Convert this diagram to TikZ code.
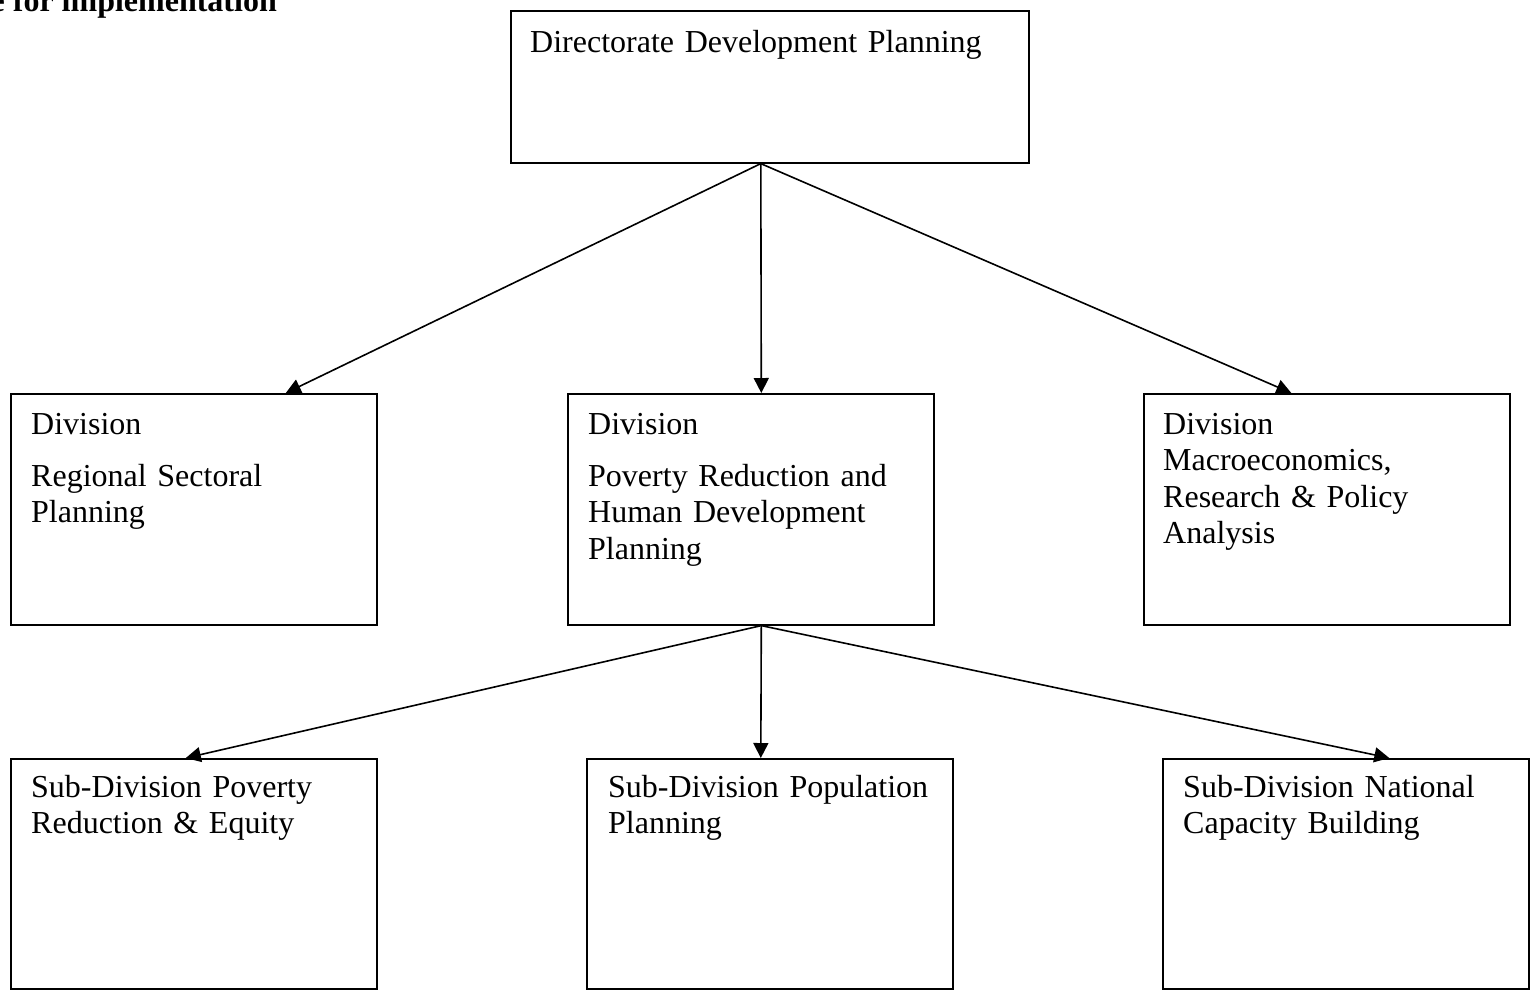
\documentclass[tikz,border=0pt]{standalone}
\usepackage{fontspec}
\setmainfont{Liberation Serif}
\usetikzlibrary{arrows.meta}
\newcommand{\topline}[1]{\rule{0pt}{#1pt}}
\tikzset{
  orgbox/.style={draw,line width=1.6pt,inner sep=0pt,anchor=north west,minimum width=366pt,minimum height=231pt},
  orgtext/.style={inner sep=0pt,anchor=north west,text width=340pt,align=left,font=\fontsize{32}{36.5}\selectfont},
  orgarrow/.style={-{Triangle[length=15pt,width=15pt]},line width=1.6pt}
}
\begin{document}
\begin{tikzpicture}[x=1pt,y=-1pt]
\useasboundingbox (0,0) rectangle (1532,997);
\clip (0,0) rectangle (1532,997);
% heading, cut off at the top
\node[inner sep=0pt,anchor=base east,font=\fontsize{32}{36}\selectfont\bfseries](head) at (277,11.5){e for implementation};
% boxes
\node[orgbox,minimum width=518pt,minimum height=152pt](dir) at (510,10){};
\node[orgbox](regional) at (10,393){};
\node[orgbox](poverty) at (567,393){};
\node[orgbox](macro) at (1143,393){};
\node[orgbox,minimum height=230pt](subpov) at (10,758){};
\node[orgbox,minimum height=230pt](popul) at (586,758){};
\node[orgbox,minimum height=230pt](capac) at (1162,758){};
% texts
\node[orgtext,text width=480pt](dirtxt) at (530,10){\topline{42}Directorate Development Planning};
\node[orgtext](regionaltxt) at (31,393){\topline{41}Division\\[15.5pt]Regional Sectoral\\Planning};
\node[orgtext](povertytxt) at (588,393){\topline{41}Division\\[15.5pt]Poverty Reduction and\\Human Development\\Planning};
\node[orgtext](macrotxt) at (1163,393){\topline{41}Division\\Macroeconomics,\\Research \& Policy\\Analysis};
\node[orgtext](subpovtxt) at (31,758){\topline{39}Sub-Division Poverty\\Reduction \& Equity};
\node[orgtext](popultxt) at (608,758){\topline{39}Sub-Division Population\\Planning};
\node[orgtext](capactxt) at (1183,758){\topline{39}Sub-Division National\\Capacity Building};
% arrows
\draw[orgarrow]([xshift=-9pt]dir.south) -- ([xshift=92pt]regional.north);
\draw[orgarrow]([xshift=-9pt]dir.south) -- ([xshift=10.5pt]poverty.north);
\draw[orgarrow]([xshift=-9pt]dir.south) -- ([xshift=-35.5pt]macro.north);
\draw[orgarrow]([xshift=10.5pt]poverty.south) -- ([xshift=-8pt]subpov.north);
\draw[orgarrow]([xshift=10.5pt]poverty.south) -- ([xshift=-9pt]popul.north);
\draw[orgarrow]([xshift=10.5pt]poverty.south) -- ([xshift=43.5pt]capac.north);
\end{tikzpicture}
\end{document}
